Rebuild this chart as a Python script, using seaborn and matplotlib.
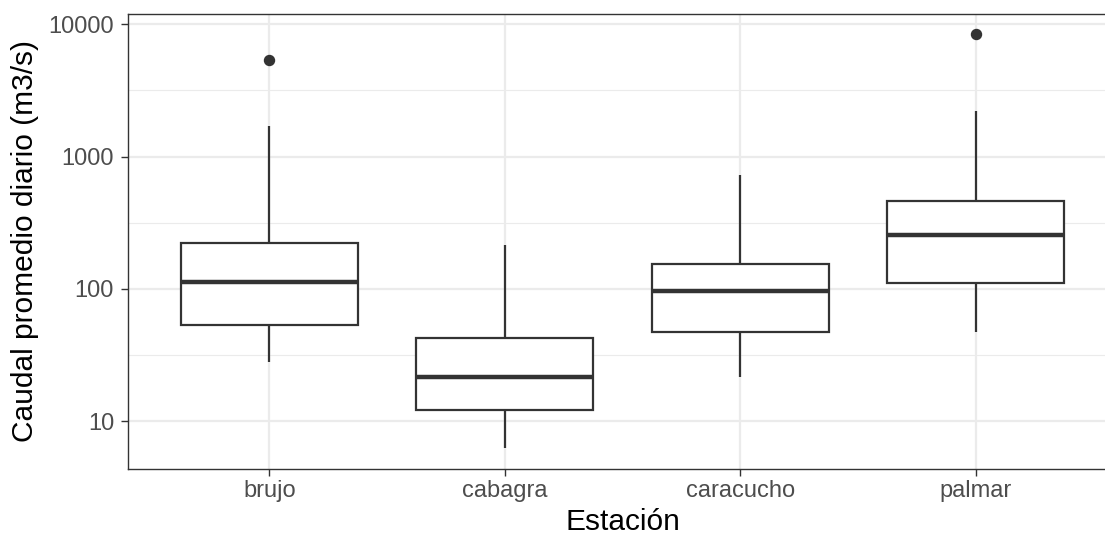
import numpy as np
import pandas as pd
import matplotlib
matplotlib.use("Agg")
import matplotlib.pyplot as plt
from matplotlib.ticker import FixedLocator, FixedFormatter, NullFormatter
import seaborn as sns

estaciones = ["brujo", "cabagra", "caracucho", "palmar"]
caudal_brujo = [27.9, 53.4, 53.4, 53.4, 112, 112, 222, 222, 1700, 5350]
caudal_cabagra = [6.25, 12.2, 12.2, 21.7, 21.7, 21.7, 42.2, 42.2, 214]
caudal_caracucho = [21.6, 47.2, 47.2, 96.4, 96.4, 96.4, 154, 154, 724]
caudal_palmar = [47.2, 111, 111, 111, 255, 255, 460, 460, 2210, 8510]
y_ticks = [10, 100, 1000, 10000]
y_ticklabels = ["10", "100", "1000", "10000"]

series = [caudal_brujo, caudal_cabagra, caudal_caracucho, caudal_palmar]
df = pd.DataFrame({
    "Estación": np.concatenate([[e] * len(v) for e, v in zip(estaciones, series)]),
    "caudal": np.concatenate(series),
})

sns.set_style("white")
plt.rcParams["font.family"] = ["Liberation Sans", "DejaVu Sans"]

fig = plt.figure(figsize=(11.05, 5.38), dpi=100)
ax = fig.add_axes([128 / 1105, 69 / 538, (1117 - 128) / 1105, (469 - 14) / 538])

dark = "#333333"
sns.boxplot(
    data=df, x="Estación", y="caudal", order=estaciones, log_scale=True,
    width=0.75, color="white", saturation=1, linecolor=dark, linewidth=1.6,
    whis=1.5, showcaps=False,
    medianprops=dict(linewidth=3.2, color=dark),
    flierprops=dict(marker="o", markersize=7.2, markerfacecolor=dark,
                    markeredgecolor=dark),
    ax=ax, zorder=3,
)

ax.set_xlim(-0.6, 3.6)
ax.set_ylim(10 ** 0.637, 10 ** 4.078)
ax.yaxis.set_major_locator(FixedLocator(y_ticks))
ax.yaxis.set_major_formatter(FixedFormatter(y_ticklabels))
ax.yaxis.set_minor_locator(FixedLocator([10 ** 0.5, 10 ** 1.5, 10 ** 2.5, 10 ** 3.5]))
ax.yaxis.set_minor_formatter(NullFormatter())

ax.set_axisbelow(True)
ax.grid(which="major", axis="both", color="#EBEBEB", linewidth=1.6, zorder=0)
ax.grid(which="minor", axis="y", color="#EBEBEB", linewidth=0.8, zorder=0)

for s in ax.spines.values():
    s.set_color(dark)
    s.set_linewidth(1.0)
    s.set_visible(True)

ax.tick_params(axis="both", which="major", length=5, width=1.0, color=dark,
               labelcolor="#4D4D4D", labelsize=17, pad=3)
ax.tick_params(axis="y", which="major", pad=5)
ax.tick_params(axis="y", which="minor", length=0)
ax.tick_params(axis="y", left=True)
ax.tick_params(axis="x", bottom=True)

ax.set_xlabel("Estación", fontsize=21.5, color="black", labelpad=4)
ax.set_ylabel("Caudal promedio diario (m3/s)", fontsize=21.5, color="black", labelpad=7)

fig.savefig("out.png", dpi=100)
